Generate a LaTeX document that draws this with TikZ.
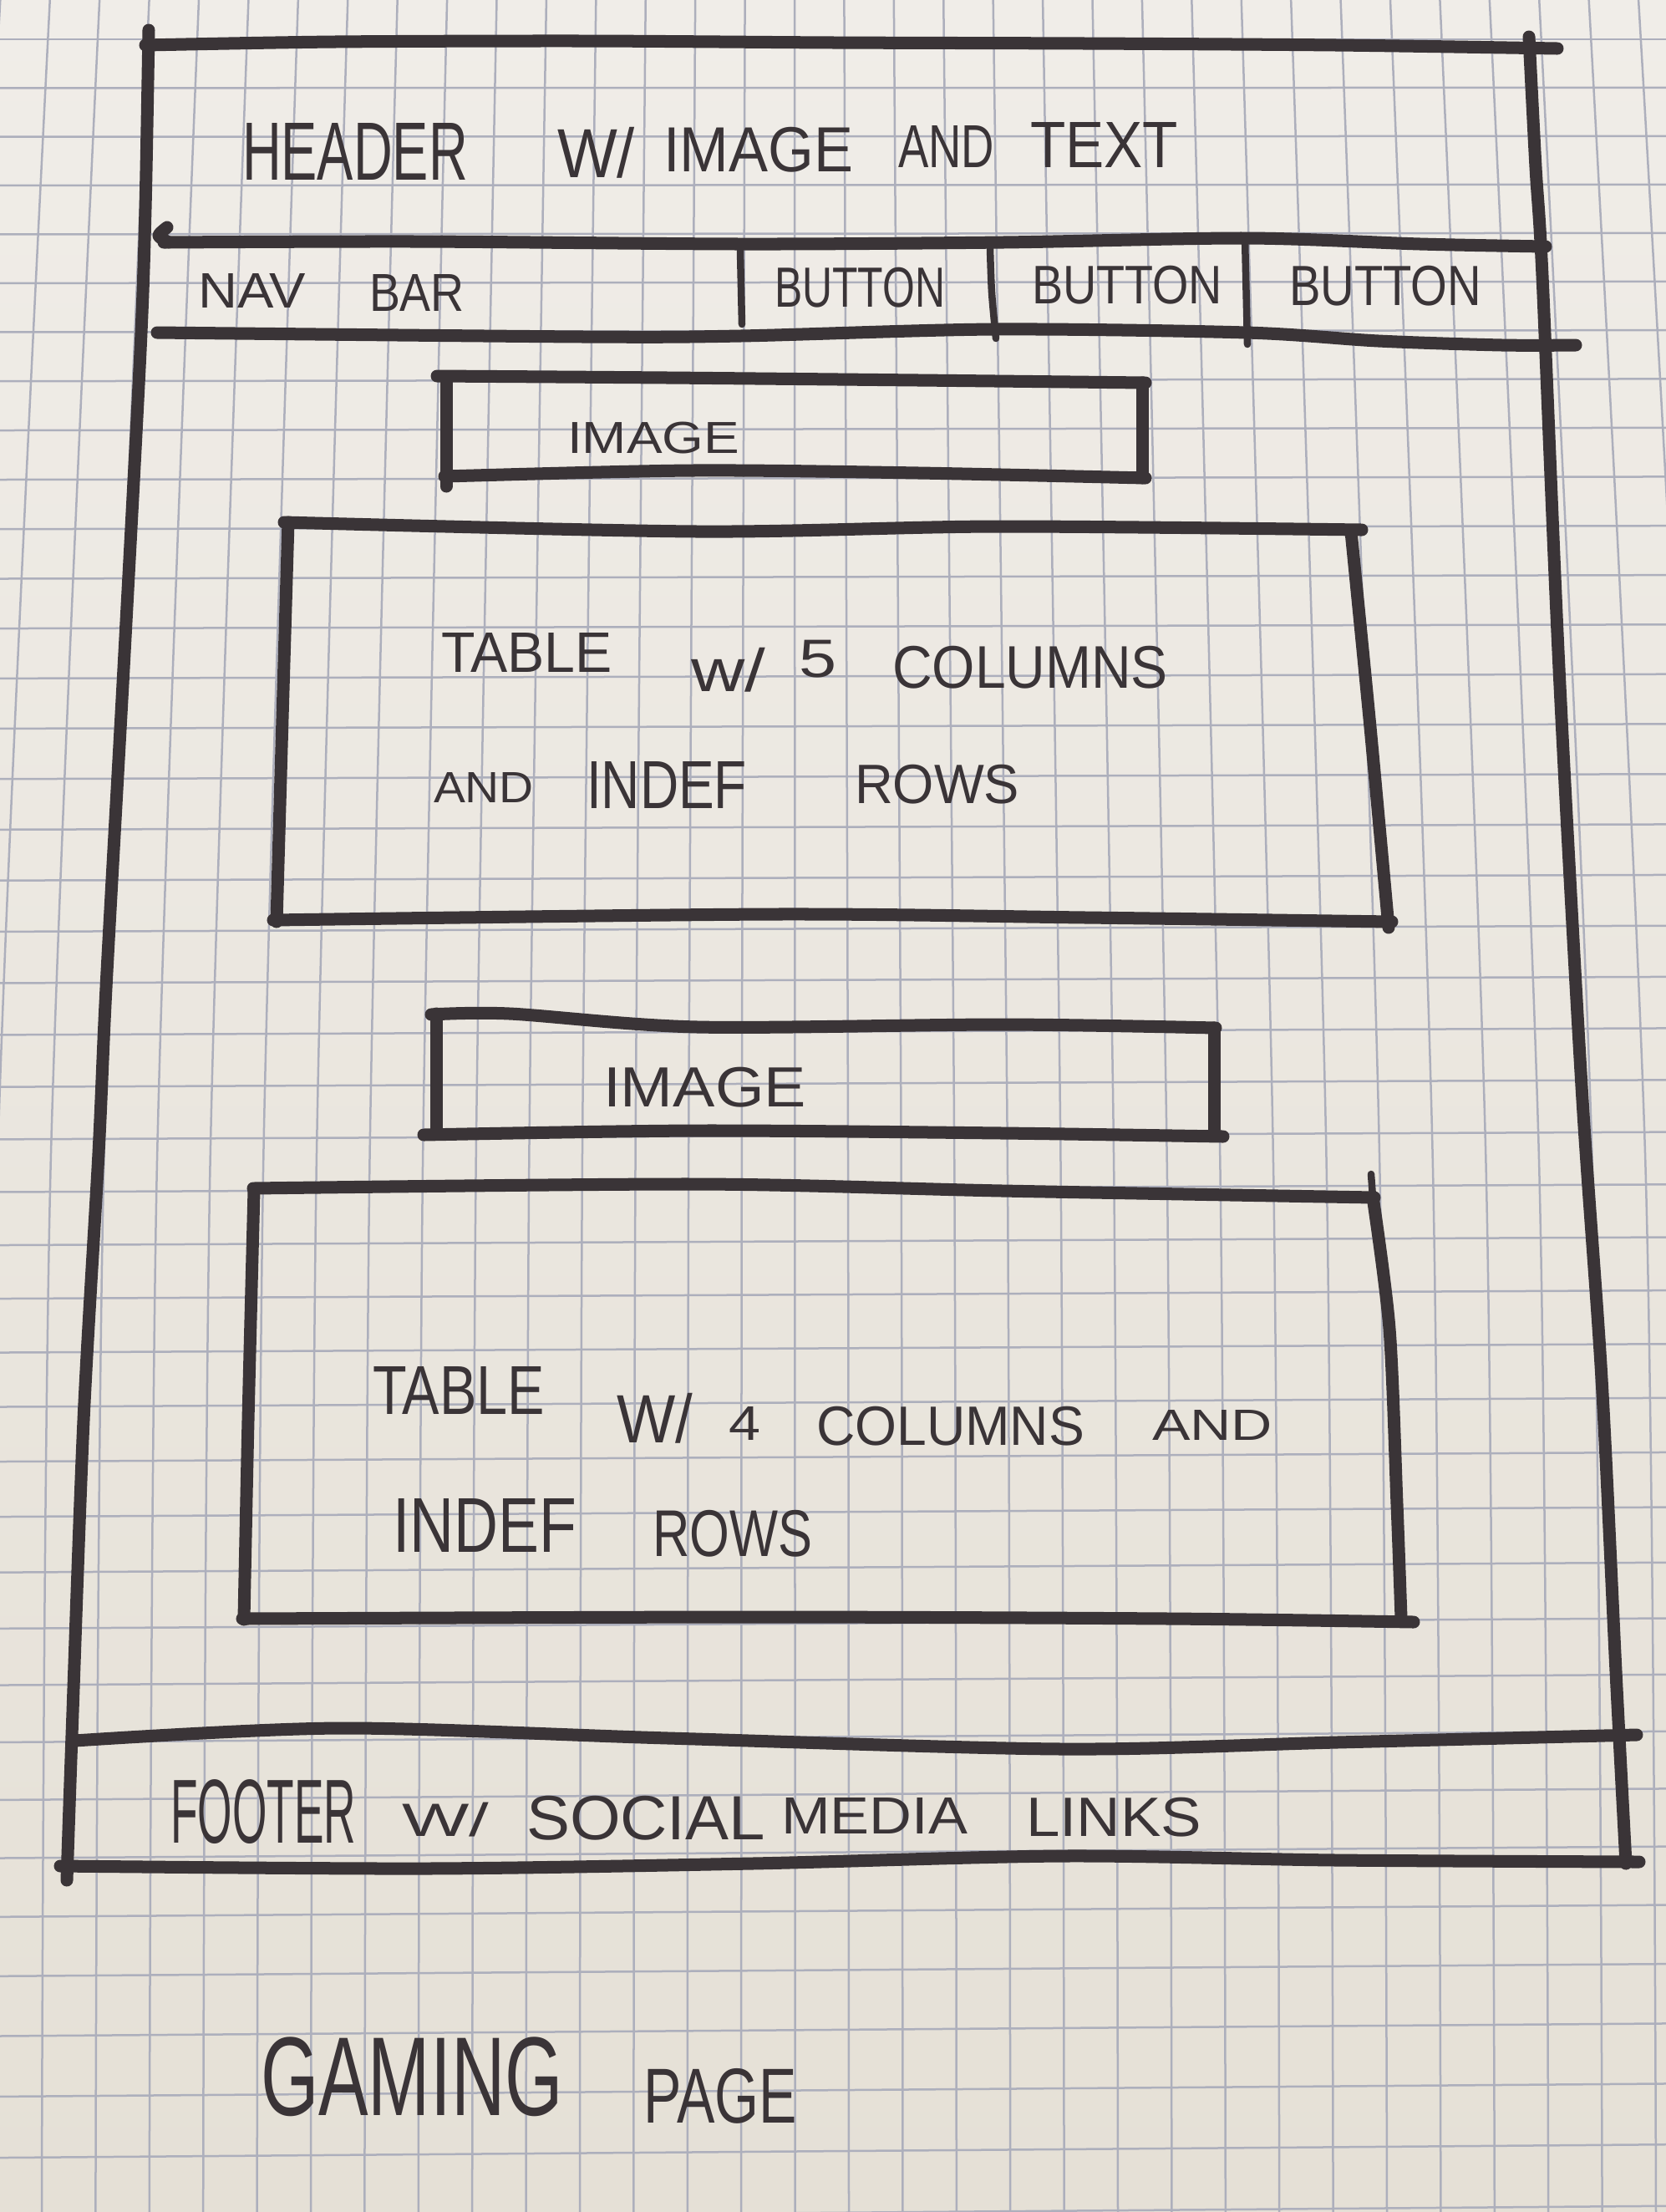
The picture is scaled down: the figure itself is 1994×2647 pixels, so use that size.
\documentclass[tikz,border=0pt]{standalone}
\usepackage{fontspec}
\setmainfont{Liberation Sans}
\usepackage{graphicx}
\newlength\pxu
\setlength\pxu{0.01cm}
\definecolor{paperTop}{HTML}{F0EDE8}
\definecolor{paperBot}{HTML}{E5E0D6}
\definecolor{gridc}{HTML}{ADAFBC}
\definecolor{inkc}{HTML}{3A3437}
\tikzset{
  gridline/.style={draw=gridc, line width=0.025cm},
  penline/.style={draw=inkc, line width=0.15cm, line cap=round, line join=round},
  thinpen/.style={draw=inkc, line width=0.085cm, line cap=round, line join=round},
  lettering/.style={inner sep=0pt, outer sep=0pt, anchor=north west, text=inkc},
}
% a hand-lettered word stretched into its box: name, x1, y1, x2, y2, text
\newcommand\handword[6]{%
  \node[lettering] (#1) at (#2,#3)
    {\resizebox*{\dimexpr #4\pxu-#2\pxu\relax}{\dimexpr #5\pxu-#3\pxu\relax}{#6}};}
\begin{document}
\begin{tikzpicture}[x=0.01cm, y=-0.01cm]
\useasboundingbox (0,0) rectangle (1994,2647);
% paper
\shade[top color=paperTop, bottom color=paperBot] (0,0) rectangle (1994,2647);
% graph-paper grid, seen in slight perspective
\begin{scope}
  \clip (0,0) rectangle (1994,2647);
  \foreach \i in {-3,...,36}
    \draw[gridline] plot[smooth] coordinates
      {({60+59.4*\i},-5) ({-2.6+63.6*\i},1380) ({-14.4+64.4*\i},2652)};
  \foreach \k in {0,...,42}
    \draw[gridline] (-10,{47+58.3*\k+0.00317*\k*\k*\k})
      -- (2004,{47+58.3*\k+0.00317*\k*\k*\k-0.4*\k});
\end{scope}

% page outline
\draw[penline] plot[smooth] coordinates {(174,54) (400,50) (700,49) (1000,51) (1300,52) (1600,54) (1864,58)};
\draw[penline] plot[smooth] coordinates {(178,36) (174,250) (168,420) (148,800) (127,1182) (118,1380) (100,1700) (86,2077) (80,2250)};
\draw[penline] plot[smooth] coordinates {(1830,44) (1838,200) (1846,330) (1866,800) (1893,1300) (1917,1650) (1934,2000) (1946,2230)};

% header / nav bar separators
\draw[penline] plot[smooth] coordinates {(200,272) (190,282) (202,290)};
\draw[penline] plot[smooth] coordinates {(196,290) (500,289) (889,292) (1200,290) (1492,285) (1700,292) (1850,295)};
\draw[penline] plot[smooth] coordinates {(188,398) (700,403) (886,402) (1190,394) (1492,398) (1650,408) (1798,413) (1886,413)};
\draw[thinpen] (886,300) -- (888,388);
\draw[thinpen] plot[smooth] coordinates {(1185,297) (1187,350) (1192,405)};
\draw[thinpen] (1490,283) -- (1493,412);

% first image box
\draw[penline] plot[smooth] coordinates {(523,450) (800,452) (1100,455) (1371,458)};
\draw[penline] (534,453) -- (534,582);
\draw[penline] (1367,458) -- (1367,572);
\draw[penline] plot[smooth] coordinates {(532,570) (828,563) (1100,566) (1371,572)};

% first table box
\draw[penline] plot[smooth] coordinates {(340,625) (836,636) (1193,630) (1630,634)};
\draw[penline] plot[smooth] coordinates {(345,625) (338,860) (331,1103)};
\draw[penline] plot[smooth] coordinates {(1617,636) (1640,870) (1662,1110)};
\draw[penline] plot[smooth] coordinates {(327,1101) (925,1094) (1300,1098) (1666,1103)};

% second image box
\draw[penline] plot[smooth] coordinates {(516,1214) (610,1213) (835,1229) (1200,1226) (1455,1230)};
\draw[penline] (522,1213) -- (522,1352);
\draw[penline] (1453,1230) -- (1453,1355);
\draw[penline] plot[smooth] coordinates {(507,1358) (835,1353) (1200,1356) (1464,1360)};

% second table box
\draw[penline] plot[smooth] coordinates {(303,1422) (835,1417) (1200,1425) (1645,1433)};
\draw[thinpen] (1641,1405) -- (1643,1432);
\draw[penline] plot[smooth] coordinates {(304,1425) (297,1700) (292,1938)};
\draw[penline] plot[smooth] coordinates {(1643,1432) (1663,1590) (1672,1800) (1677,1936)};
\draw[penline] plot[smooth] coordinates {(290,1937) (900,1935) (1400,1937) (1692,1941)};

% footer band
\draw[penline] plot[smooth] coordinates {(89,2083) (407,2068) (800,2080) (1272,2093) (1600,2085) (1959,2076)};
\draw[penline] plot[smooth] coordinates {(72,2233) (509,2236) (900,2230) (1272,2221) (1600,2226) (1962,2228)};

% lettering
\handword{hd1}{290}{147}{560}{215}{HEADER}
\handword{hd2}{667}{152}{760}{213}{W/}
\handword{hd3}{794}{152}{1021}{206}{IMAGE}
\handword{hd4}{1075}{150}{1190}{200}{AND}
\handword{hd5}{1233}{146}{1410}{200}{TEXT}

\handword{nv1}{237}{327}{366}{368}{NAV}
\handword{nv2}{442}{328}{556}{372}{BAR}
\handword{bt1}{927}{320}{1131}{368}{BUTTON}
\handword{bt2}{1235}{318}{1463}{364}{BUTTON}
\handword{bt3}{1543}{318}{1773}{366}{BUTTON}

\handword{im1}{679}{505}{885}{543}{IMAGE}

\handword{ta1}{528}{757}{733}{804}{TABLE}
\handword{ta2}{827}{775}{916}{828}{w/}
\handword{ta3}{956}{766}{1001}{811}{5}
\handword{ta4}{1068}{773}{1398}{824}{COLUMNS}
\handword{ta5}{519}{924}{639}{960}{AND}
\handword{ta6}{702}{911}{894}{967}{INDEF}
\handword{ta7}{1023}{915}{1220}{962}{ROWS}

\handword{im2}{722}{1277}{965}{1325}{IMAGE}

\handword{tb1}{446}{1635}{652}{1692}{TABLE}
\handword{tb2}{738}{1667}{829}{1727}{W/}
\handword{tb3}{872}{1683}{910}{1723}{4}
\handword{tb4}{977}{1683}{1298}{1730}{COLUMNS}
\handword{tb5}{1379}{1687}{1523}{1723}{AND}
\handword{tb6}{470}{1793}{690}{1857}{INDEF}
\handword{tb7}{781}{1807}{972}{1863}{ROWS}

\handword{ft1}{204}{2130}{426}{2207}{FOOTER}
\handword{ft2}{481}{2157}{585}{2198}{W/}
\handword{ft3}{630}{2149}{916}{2202}{SOCIAL}
\handword{ft4}{935}{2151}{1158}{2194}{MEDIA}
\handword{ft5}{1228}{2151}{1438}{2198}{LINKS}

\handword{pg1}{312}{2438}{674}{2533}{GAMING}
\handword{pg2}{770}{2475}{954}{2541}{PAGE}
\end{tikzpicture}
\end{document}
